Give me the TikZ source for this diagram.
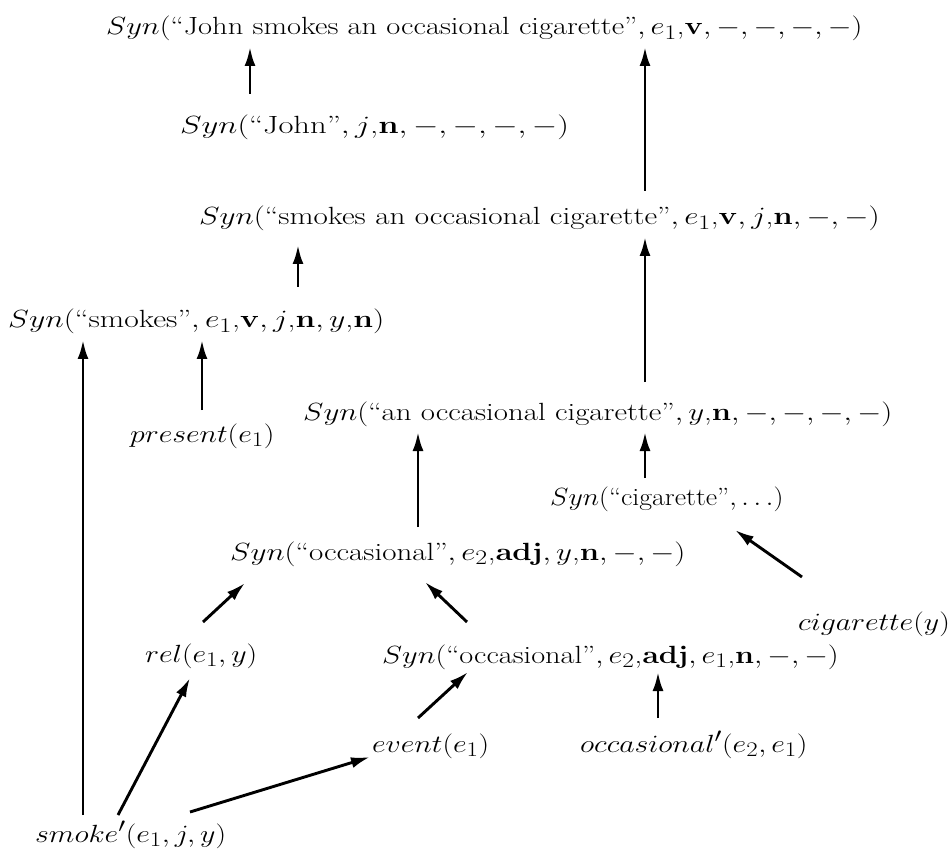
\documentclass[tikz,border=0pt]{standalone}
\usepackage{graphicx}
\usetikzlibrary{arrows.meta}
\newcommand{\wide}[2][1.2]{\scalebox{#1}[1]{#2}}
\begin{document}
\begin{tikzpicture}[x=1pt,y=-1pt,
  lbl/.style={anchor=base west,inner sep=0pt,font=\fontsize{24.88}{30}\selectfont},
  arr/.style={line width=2.9pt,-{Latex[length=19pt,width=11pt]}}]
\useasboundingbox (0,0) rectangle (950,858);
\node[lbl] (n1) at (106,35) {\wide[1.226]{$Syn($``John smokes an occasional cigarette''$, e_1$,$\mathbf{v}, -, -, -, -)$}};
\node[lbl] (n2) at (180,134) {\wide[1.31]{$Syn($``John''$, j$,$\mathbf{n}, -, -, -, -)$}};
\node[lbl] (n3) at (199,225) {\wide[1.25]{$Syn($``smokes an occasional cigarette''$, e_1$,$\mathbf{v}, j$,$\mathbf{n}, -, -)$}};
\node[lbl] (n4) at (8,328) {\wide[1.27]{$Syn($``smokes''$, e_1$,$\mathbf{v}, j$,$\mathbf{n}, y$,$\mathbf{n})$}};
\node[lbl] (n5) at (303,420) {\wide[1.24]{$Syn($``an occasional cigarette''$, y$,$\mathbf{n}, -, -, -, -)$}};
\node[lbl] (n6) at (130,442) {\wide{$present(e_1)$}};
\node[lbl] (n7) at (550,505) {\wide[1.12]{$Syn($``cigarette''$, \ldots)$}};
\node[lbl] (n8) at (230,560) {\wide[1.245]{$Syn($``occasional''$, e_2$,$\mathbf{adj}, y$,$\mathbf{n}, -, -)$}};
\node[lbl] (n9) at (798,630) {\wide{$cigarette(y)$}};
\node[lbl] (n10) at (145,662) {\wide{$rel(e_1, y)$}};
\node[lbl] (n11) at (382,663) {\wide[1.22]{$Syn($``occasional''$, e_2$,$\mathbf{adj}, e_1$,$\mathbf{n}, -, -)$}};
\node[lbl] (n12) at (372,752) {\wide{$event(e_1)$}};
\node[lbl] (n13) at (580,752) {\wide{$occasional'(e_2, e_1)$}};
\node[lbl] (n14) at (35,842) {\wide{$smoke'(e_1, j, y)$}};
% arrows
\draw[arr] ([shift={(70,-40)}]n2.base west) -- ([shift={(144,12)}]n1.base west);
\draw[arr] ([shift={(446,-34)}]n3.base west) -- ([shift={(539,12)}]n1.base west);
\draw[arr] ([shift={(342,-38)}]n5.base west) -- ([shift={(446,12)}]n3.base west);
\draw[arr] ([shift={(290,-41)}]n4.base west) -- ([shift={(99,20)}]n3.base west);
\draw[arr] ([shift={(72,-32)}]n6.base west) -- ([shift={(194,12)}]n4.base west);
\draw[arr] ([shift={(48,-27)}]n14.base west) -- ([shift={(75,12)}]n4.base west);
\draw[arr] ([shift={(188,-33)}]n8.base west) -- ([shift={(115,12)}]n5.base west);
\draw[arr] ([shift={(95,-27)}]n7.base west) -- ([shift={(342,12)}]n5.base west);
\draw[arr] ([shift={(4,-53)}]n9.base west) -- ([shift={(185,25)}]n7.base west);
\draw[arr] ([shift={(58,-40)}]n10.base west) -- ([shift={(15,23)}]n8.base west);
\draw[arr] ([shift={(85,-41)}]n11.base west) -- ([shift={(195,22)}]n8.base west);
\draw[arr] ([shift={(46,-34)}]n12.base west) -- ([shift={(86,9)}]n11.base west);
\draw[arr] ([shift={(78,-34)}]n13.base west) -- ([shift={(276,9)}]n11.base west);
\draw[arr] ([shift={(83,-27)}]n14.base west) -- ([shift={(45,16)}]n10.base west);
\draw[arr] ([shift={(155,-30)}]n14.base west) -- ([shift={(-2,5)}]n12.base west);
\end{tikzpicture}
\end{document}
